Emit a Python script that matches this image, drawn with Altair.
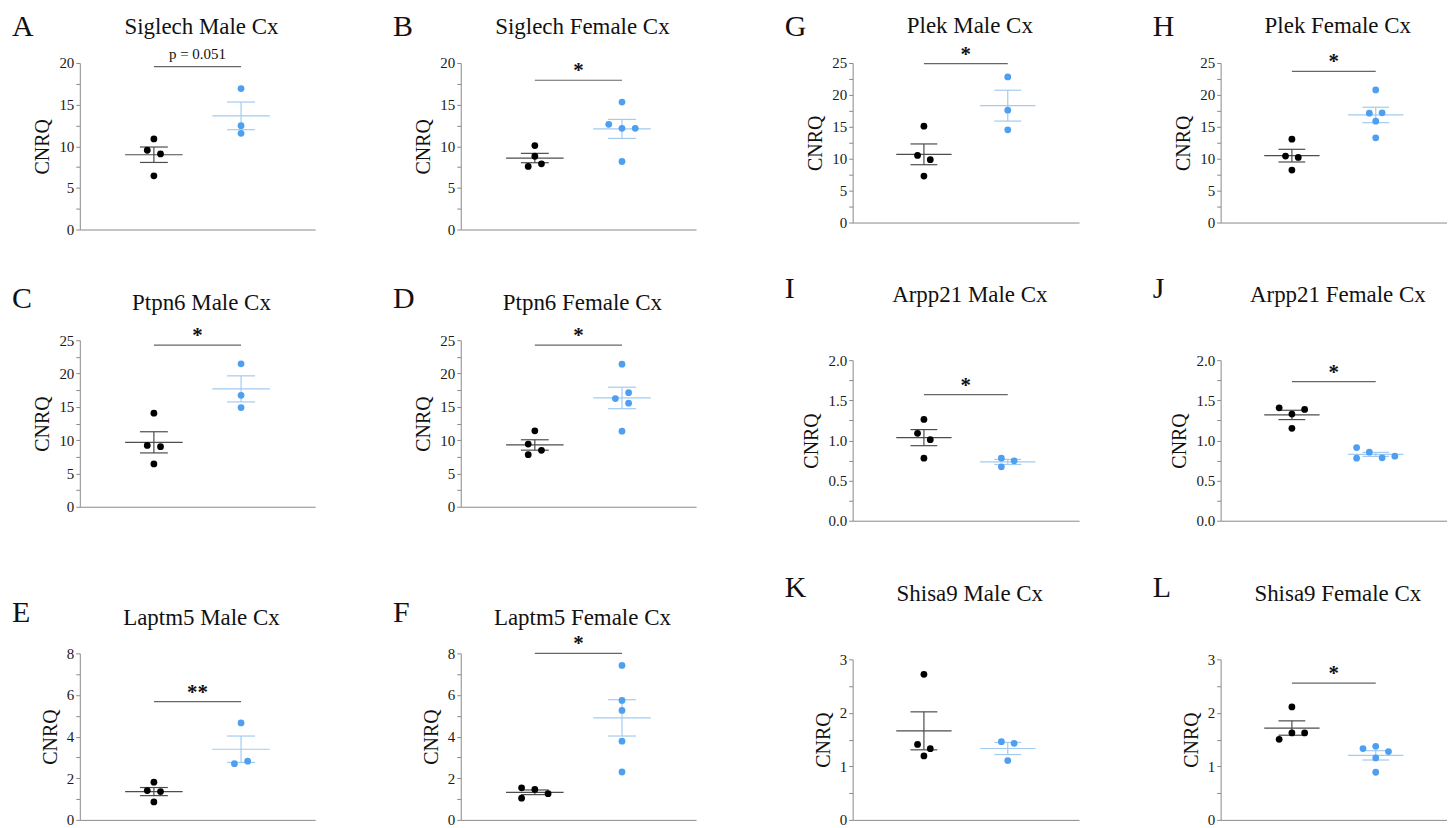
import altair as alt
import pandas as pd
import numpy as np

# ---------------- data ----------------
letters = ["A", "B", "C", "D", "E", "F", "G", "H", "I", "J", "K", "L"]
titles = ["Siglech Male Cx", "Siglech Female Cx", "Ptpn6 Male Cx", "Ptpn6 Female Cx",
          "Laptm5 Male Cx", "Laptm5 Female Cx", "Plek Male Cx", "Plek Female Cx",
          "Arpp21 Male Cx", "Arpp21 Female Cx", "Shisa9 Male Cx", "Shisa9 Female Cx"]

ctrl_values = [
    [10.88, 9.52, 9.08, 6.45],
    [10.08, 8.80, 7.57, 7.89],
    [14.04, 9.21, 9.01, 6.42],
    [11.40, 9.41, 8.47, 7.82],
    [1.81, 1.41, 1.36, 0.86],
    [1.54, 1.46, 1.26, 1.04],
    [15.10, 10.52, 9.84, 7.29],
    [13.07, 10.42, 10.21, 8.23],
    [1.262, 1.089, 1.010, 0.779],
    [1.406, 1.386, 1.328, 1.151],
    [2.72, 1.41, 1.33, 1.195],
    [2.11, 1.506, 1.624, 1.624],
]
treat_values = [
    [16.93, 12.47, 11.55],
    [15.30, 12.63, 12.15, 12.15, 8.17],
    [21.46, 16.73, 14.89],
    [21.41, 16.24, 17.13, 15.54, 11.35],
    [4.66, 2.70, 2.82],
    [7.42, 5.74, 5.26, 3.78, 2.30],
    [22.81, 17.60, 14.53],
    [20.78, 17.14, 17.19, 15.89, 13.28],
    [0.779, 0.746, 0.672],
    [0.911, 0.854, 0.779, 0.784, 0.804],
    [1.462, 1.431, 1.108],
    [1.332, 1.375, 1.276, 1.157, 0.890],
]
# swarm slot of each dot inside its group (as drawn in the figure)
ctrl_slots = [[0, -1, 1, 0], [0, 0, -1, 1], [0, -1, 1, 0], [0, -1, 1, -1], [0, -1, 1, 0], [-2, 0, 2, -2],
              [0, -1, 1, 0], [0, -1, 1, 0], [0, -1, 1, 0], [-2, 2, 0, 0], [0, -1, 1, 0], [0, -2, 0, 2]]
treat_slots = [[0, 0, 0], [0, -2, 0, 2, 0], [0, 0, 0], [0, -1, 1, 1, 0], [0, -1, 1], [0, 0, 0, 0, 0],
               [0, 0, 0], [0, -1, 1, 0, 0], [-1, 1, -1], [-3, -1, -3, 1, 3], [-1, 1, 0], [-2, 0, 2, 0, 0]]

y_max = [20, 20, 25, 25, 8, 8, 25, 25, 2.0, 2.0, 3, 3]
y_major = [5, 5, 5, 5, 2, 2, 5, 5, 0.5, 0.5, 1, 1]
y_minor = [2.5, 2.5, 2.5, 2.5, 1, 1, 2.5, 2.5, 0.25, 0.25, 0.5, 0.5]
sig_y = [19.56, 17.93, 24.25, 24.25, 5.68, 8.0, 24.9, 23.7, 1.571, 1.732, None, 2.557]
sig_text = ["p = 0.051", "*", "*", "*", "**", "*", "*", "*", "*", "*", "", "*"]

# ---------------- styles ----------------
SERIF = "Liberation Serif"
BLACK = "#000000"
BLUE = "#4f9ff0"
CTRL_LINE = "#4d4d4d"
TREAT_LINE = "#a3cbf1"
AXIS = "#8a8a8a"
SLOT = 0.076

fill_scale = alt.Scale(domain=[0, 1], range=[BLACK, BLUE])
stroke_scale = alt.Scale(domain=[0, 1], range=[CTRL_LINE, TREAT_LINE])


def panel(i, w, h, letter_dy, title_dy):
    c, t = ctrl_values[i], treat_values[i]
    df = pd.DataFrame({
        "group": [0] * len(c) + [1] * len(t),
        "value": c + t,
        "slot": ctrl_slots[i] + treat_slots[i],
    })
    df["x"] = df["group"] + df["slot"] * SLOT

    major, minor, ymax = y_major[i], y_minor[i], y_max[i]
    vals = [float(v) for v in np.round(np.arange(0, ymax + 1e-9, minor), 4)]
    fmt = ".1f" if major < 1 else ".0f"
    yaxis = alt.Axis(values=vals, format=fmt,
                     labelExpr=f"abs(datum.value/{major} - round(datum.value/{major})) < 0.001 ? datum.label : ''",
                     title="CNRQ", labelOverlap=False)
    xaxis = alt.Axis(labels=False, ticks=False, grid=False, title=None)
    xs = alt.Scale(domain=[-0.85, 1.85], nice=False, zero=False)
    ys = alt.Scale(domain=[0, ymax], nice=False, zero=True)

    base = alt.Chart(df)
    pts = base.mark_circle(size=46, opacity=1).encode(
        x=alt.X("x:Q", scale=xs, axis=xaxis),
        y=alt.Y("value:Q", scale=ys, axis=yaxis),
        fill=alt.Fill("group:N", scale=fill_scale, legend=None),
    )
    stats = base.transform_aggregate(
        m="mean(value)", se="stderr(value)", groupby=["group"]
    ).transform_calculate(
        lo="datum.m - datum.se", hi="datum.m + datum.se",
        mx1="datum.group - 0.33", mx2="datum.group + 0.33",
        cx1="datum.group - 0.16", cx2="datum.group + 0.16",
    )
    stroke = alt.Stroke("group:N", scale=stroke_scale, legend=None)
    mean_rule = stats.mark_rule(strokeWidth=1.2).encode(
        x=alt.X("mx1:Q", scale=xs, axis=xaxis), x2="mx2:Q",
        y=alt.Y("m:Q", scale=ys, axis=yaxis), stroke=stroke)
    hi_rule = stats.mark_rule(strokeWidth=1.2).encode(
        x=alt.X("cx1:Q", scale=xs, axis=xaxis), x2="cx2:Q",
        y=alt.Y("hi:Q", scale=ys, axis=yaxis), stroke=stroke)
    lo_rule = stats.mark_rule(strokeWidth=1.2).encode(
        x=alt.X("cx1:Q", scale=xs, axis=xaxis), x2="cx2:Q",
        y=alt.Y("lo:Q", scale=ys, axis=yaxis), stroke=stroke)
    vert = stats.mark_rule(strokeWidth=1.2).encode(
        x=alt.X("group:Q", scale=xs, axis=xaxis),
        y=alt.Y("lo:Q", scale=ys, axis=yaxis), y2="hi:Q", stroke=stroke)

    layers = [mean_rule, hi_rule, lo_rule, vert, pts]

    if sig_y[i] is not None:
        sdf = pd.DataFrame({"x1": [0.0], "x2": [1.0], "xm": [0.5], "y": [sig_y[i]], "label": [sig_text[i]]})
        bar = alt.Chart(sdf).mark_rule(color="#666666", strokeWidth=1.2).encode(
            x=alt.X("x1:Q", scale=xs, axis=xaxis), x2="x2:Q",
            y=alt.Y("y:Q", scale=ys, axis=yaxis))
        is_p = sig_text[i].startswith("p")
        txt = alt.Chart(sdf).mark_text(
            font=SERIF, fontSize=15 if is_p else 21, fontWeight="normal" if is_p else "bold",
            baseline="alphabetic", align="center", dy=-8 if is_p else -3, color="#111111"
        ).encode(x=alt.X("xm:Q", scale=xs, axis=xaxis), y=alt.Y("y:Q", scale=ys, axis=yaxis), text="label:N")
        layers += [bar, txt]

    tdf = pd.DataFrame({"t": [titles[i]]})
    ttl = alt.Chart(tdf).mark_text(font=SERIF, fontSize=23, baseline="alphabetic", align="center",
                                   color="#111111").encode(
        x=alt.value(w / 2 + 4), y=alt.value(title_dy), text="t:N")
    ldf = pd.DataFrame({"t": [letters[i]]})
    let = alt.Chart(ldf).mark_text(font=SERIF, fontSize=30, baseline="alphabetic", align="left",
                                   color="#111111").encode(
        x=alt.value(-68), y=alt.value(letter_dy), text="t:N")
    layers += [ttl, let]
    return alt.layer(*layers).properties(width=w, height=h)


# layout: (width, height, letter baseline, title baseline) relative to plot top
A = panel(0, 236, 167, -27, -29)
B = panel(1, 236, 167, -27, -29)
C = panel(2, 236, 167, -32, -30)
D = panel(3, 236, 167, -32, -30)
E = panel(4, 236, 167, -31, -28)
F = panel(5, 236, 167, -31, -28)
G = panel(6, 227, 160, -27, -30)
H = panel(7, 227, 160, -27, -30)
I = panel(8, 227, 161, -62, -58)
J = panel(9, 227, 161, -62, -58)
K = panel(10, 227, 161, -63, -58)
L = panel(11, 227, 161, -63, -58)

L1 = alt.vconcat(A, alt.vconcat(C, E, spacing=84), spacing=47)
L2 = alt.vconcat(B, alt.vconcat(D, F, spacing=84), spacing=47)
R1 = alt.vconcat(G, I, K, spacing=44)
R2 = alt.vconcat(H, J, L, spacing=44)

chart = alt.hconcat(
    alt.hconcat(L1, L2, spacing=78),
    alt.hconcat(R1, R2, spacing=74),
    spacing=89,
).properties(
    padding={"left": 4, "top": 3, "right": 0, "bottom": 0}
).configure_view(stroke=None).configure_axis(
    domainColor=AXIS, tickColor=AXIS, domainWidth=1, tickWidth=1, tickSize=4,
    grid=False, labelFont=SERIF, labelFontSize=15, labelColor="#1a1a1a", labelPadding=2,
    titleFont=SERIF, titleFontSize=20, titleFontWeight="normal", titleColor="#111111", titlePadding=6,
)

chart.save("out.html", embed_options={"renderer": "svg", "actions": False})
